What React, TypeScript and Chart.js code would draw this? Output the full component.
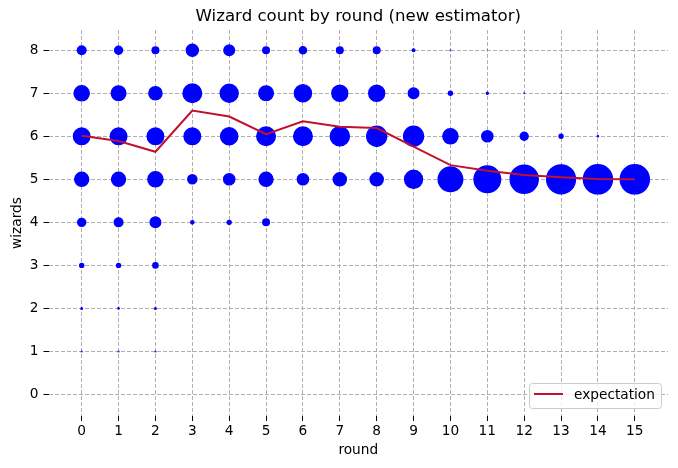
import React, { useEffect, useRef } from 'react'
import { Chart, registerables } from 'chart.js'

Chart.register(...registerables)

// ----------------------------------------------------------------------------
// data
// ----------------------------------------------------------------------------

const TITLE = 'Wizard count by round (new estimator)'

const rounds = [0, 1, 2, 3, 4, 5, 6, 7, 8, 9, 10, 11, 12, 13, 14, 15]
const wizardLevels = [0, 1, 2, 3, 4, 5, 6, 7, 8]

// share of games (%) with a given wizard count, one value per round
const share0 = [0, 0, 0, 0, 0, 0, 0, 0, 0, 0, 0, 0, 0, 0, 0, 0]
const share1 = [0.05, 0.05, 0.05, 0, 0, 0, 0, 0, 0, 0, 0, 0, 0, 0, 0, 0]
const share2 = [0.3, 0.2, 0.3, 0, 0, 0, 0, 0, 0, 0, 0, 0, 0, 0, 0, 0]
const share3 = [1.9, 1.9, 3.2, 0, 0, 0, 0, 0, 0, 0, 0, 0, 0, 0, 0, 0]
const share4 = [7.5, 8.7, 13.2, 1.2, 1.9, 5.1, 0, 0, 0, 0, 0, 0, 0, 0, 0, 0]
const share5 = [23, 23, 27.1, 9.9, 14.7, 23, 14.7, 20.4, 20.4, 38, 71, 83, 93, 98, 99.8, 100]
const share6 = [32.3, 32.3, 32.3, 32.3, 34.7, 40.6, 40.6, 43.2, 46.9, 46.9, 27.1, 14.7, 7.5, 1.9, 0.17, 0]
const share7 = [27.1, 25, 20.4, 40.6, 38, 25, 34.7, 30, 30, 13.2, 1.9, 0.47, 0.04, 0.005, 0, 0]
const share8 = [8.7, 7.5, 5.1, 16.9, 13.2, 5.1, 6.1, 5.1, 5.1, 0.8, 0.02, 0.005, 0, 0, 0, 0]

const expectation = [6.01, 5.89, 5.64, 6.6, 6.46, 6.05, 6.35, 6.22, 6.19, 5.76, 5.33, 5.2, 5.1, 5.05, 5.01, 5.0]

const xTicks = rounds
const yTicks = wizardLevels

// ----------------------------------------------------------------------------
// styling
// ----------------------------------------------------------------------------

const FONT = '"DejaVu Sans", sans-serif'
const BUBBLE_COLOR = '#0000ff'
const LINE_COLOR = '#c0112f'
const GRID_COLOR = '#b0b0b0'
const R_MAX = 14.6 // px radius for a 100% share (edge drawn on top)

const shareRows = [share0, share1, share2, share3, share4, share5, share6, share7, share8]

const bubblePoints: { x: number; y: number; r: number }[] = []
shareRows.forEach((row, w) => {
  row.forEach((p, i) => {
    if (p > 0) {
      bubblePoints.push({ x: rounds[i], y: wizardLevels[w], r: R_MAX * Math.sqrt(p / 100) })
    }
  })
})

const linePoints = rounds.map((x, i) => ({ x, y: expectation[i] }))

// title, axis labels and legend box drawn matplotlib-style
const figureText = {
  id: 'figureText',
  afterDraw(chart: Chart) {
    const { ctx, chartArea } = chart
    const cx = (chartArea.left + chartArea.right) / 2
    const cy = (chartArea.top + chartArea.bottom) / 2
    ctx.save()
    ctx.fillStyle = '#000'
    ctx.textAlign = 'center'
    ctx.textBaseline = 'middle'

    ctx.font = `16.6px ${FONT}`
    ctx.fillText(TITLE, cx, 17)

    ctx.font = `13.7px ${FONT}`
    ctx.fillText('round', cx, 450)

    ctx.save()
    ctx.translate(17, cy)
    ctx.rotate(-Math.PI / 2)
    ctx.fillText('wizards', 0, 0)
    ctx.restore()

    // legend
    const boxW = 132
    const boxH = 25
    const bx = chartArea.right - 7 - boxW
    const by = chartArea.bottom - 8 - boxH
    ctx.beginPath()
    ctx.roundRect(bx + 0.5, by + 0.5, boxW, boxH, 3)
    ctx.fillStyle = 'rgba(255,255,255,0.8)'
    ctx.fill()
    ctx.strokeStyle = '#cccccc'
    ctx.lineWidth = 1
    ctx.stroke()

    ctx.beginPath()
    ctx.moveTo(bx + 5, by + 11)
    ctx.lineTo(bx + 34, by + 11)
    ctx.strokeStyle = LINE_COLOR
    ctx.lineWidth = 2
    ctx.stroke()

    ctx.fillStyle = '#000'
    ctx.textAlign = 'left'
    ctx.fillText(String(chart.data.datasets[0].label), bx + 45, by + 12)
    ctx.restore()
  },
}

export default function App() {
  const canvasRef = useRef<HTMLCanvasElement>(null)

  useEffect(() => {
    if (!canvasRef.current) return
    document.body.style.margin = '0'

    const chart = new Chart(canvasRef.current, {
      type: 'bubble',
      data: {
        datasets: [
          {
            type: 'line',
            label: 'expectation',
            data: linePoints,
            borderColor: LINE_COLOR,
            borderWidth: 2,
            pointRadius: 0,
            fill: false,
            tension: 0,
            order: 0,
          } as any,
          {
            label: 'share',
            data: bubblePoints,
            backgroundColor: BUBBLE_COLOR,
            borderColor: BUBBLE_COLOR,
            borderWidth: 1.4,
            order: 1,
          },
        ],
      },
      options: {
        responsive: false,
        animation: false,
        events: [],
        layout: { autoPadding: false, padding: { left: 0, top: 30, right: 10, bottom: 0 } },
        plugins: {
          legend: { display: false },
          title: { display: false },
          tooltip: { enabled: false },
        },
        scales: {
          x: {
            type: 'linear',
            min: -0.9,
            max: 15.9,
            afterBuildTicks: (axis: any) => {
              axis.ticks = xTicks.map((v) => ({ value: v }))
            },
            afterFit: (scale: any) => {
              scale.height = 52
            },
            grid: {
              color: GRID_COLOR,
              lineWidth: 1,
              drawTicks: true,
              tickLength: 5,
              tickColor: '#000',
              tickWidth: 1,
            },
            border: { display: false, dash: [4, 2] },
            ticks: {
              color: '#000',
              font: { family: FONT, size: 13.7 },
              padding: 2,
              autoSkip: false,
              maxRotation: 0,
            },
          },
          y: {
            type: 'linear',
            min: -0.5,
            max: 8.47,
            afterBuildTicks: (axis: any) => {
              axis.ticks = yTicks.map((v) => ({ value: v }))
            },
            afterFit: (scale: any) => {
              scale.width = 48.5
            },
            grid: {
              color: GRID_COLOR,
              lineWidth: 1,
              drawTicks: true,
              tickLength: 5,
              tickColor: '#000',
              tickWidth: 1,
            },
            border: { display: false, dash: [4, 2] },
            ticks: {
              color: '#000',
              font: { family: FONT, size: 13.7 },
              padding: 5,
              autoSkip: false,
            },
          },
        },
      },
      plugins: [figureText],
    })

    return () => {
      chart.destroy()
    }
  }, [])

  return (
    <div style={{ position: 'absolute', left: 0, top: 0, width: 678, height: 468, background: '#fff' }}>
      <canvas ref={canvasRef} width={678} height={468} style={{ display: 'block' }} />
    </div>
  )
}
